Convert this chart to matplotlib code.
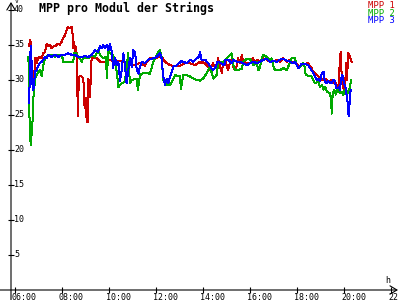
import matplotlib
matplotlib.use("Agg")
import matplotlib.pyplot as plt

title = "MPP pro Modul der Strings"
series_names = ["MPP 1", "MPP 2", "MPP 3"]
colors = ["#cc0000", "#00aa00", "#0000ff"]
x_ticks = [6, 8, 10, 12, 14, 16, 18, 20, 22]
x_tick_labels = ["06:00", "08:00", "10:00", "12:00", "14:00", "16:00", "18:00", "20:00", "22:00"]
y_ticks = [5, 10, 15, 20, 25, 30, 35, 40]
y_unit = "V"
x_unit = "h"

red_t = [6.60, 6.64, 6.68, 6.71, 6.74, 6.81, 6.85, 6.89, 6.92, 6.99, 7.06, 7.14, 7.19, 7.28, 7.35,
         7.42, 7.49, 7.56, 7.63, 7.70, 7.77, 7.84, 7.91, 7.99, 8.06, 8.13, 8.20, 8.24, 8.34, 8.41,
         8.46, 8.48, 8.51, 8.55, 8.58, 8.63, 8.65, 8.67, 8.69, 8.74, 8.84, 8.91, 8.95, 8.98, 9.01,
         9.05, 9.11, 9.12, 9.16, 9.19, 9.22, 9.26, 9.32, 9.40, 9.49, 9.62, 9.83, 10.04, 10.26, 10.47,
         10.68, 10.89, 11.11, 11.32, 11.53, 11.62, 11.74, 11.96, 12.17, 12.30, 12.38, 12.60, 12.81,
         13.02, 13.23, 13.45, 13.66, 13.87, 13.96, 14.00, 14.17, 14.30, 14.43, 14.51, 14.60, 14.64,
         14.72, 14.81, 14.85, 14.94, 15.02, 15.06, 15.15, 15.23, 15.28, 15.36, 15.45, 15.49, 15.57,
         15.66, 15.70, 15.87, 16.00, 16.13, 16.21, 16.34, 16.43, 16.55, 16.72, 16.85, 16.98, 17.15,
         17.28, 17.40, 17.57, 17.70, 17.83, 17.91, 18.04, 18.13, 18.34, 18.46, 18.55, 18.62, 18.69,
         18.77, 18.91, 18.98, 19.06, 19.19, 19.33, 19.48, 19.53, 19.62, 19.70, 19.77, 19.82, 19.86,
         19.89, 19.92, 19.96, 20.01, 20.06, 20.10, 20.13, 20.18, 20.23, 20.28, 20.30, 20.33]
red_v = [34.8, 35.7, 35.3, 30.7, 29.5, 29.7, 33.1, 33.1, 32.4, 33.1, 33.3, 33.1, 33.8, 34.0, 35.2,
         34.8, 35.0, 34.5, 34.8, 34.8, 35.0, 35.2, 35.0, 35.5, 36.0, 36.4, 37.1, 37.6, 37.4, 37.6,
         36.4, 34.5, 35.5, 34.0, 34.8, 33.6, 30.7, 24.8, 27.9, 30.5, 30.5, 30.2, 26.4, 26.0, 27.4,
         24.0, 24.0, 30.2, 29.7, 27.5, 30.0, 33.1, 33.3, 33.1, 33.1, 32.6, 32.5, 32.9, 32.6, 32.7,
         32.6, 32.3, 32.1, 32.5, 32.0, 32.6, 33.1, 33.1, 33.3, 33.1, 32.6, 32.1, 32.0,
         32.0, 32.4, 32.4, 32.1, 32.6, 32.4, 32.6, 32.1, 31.4, 32.4, 31.7, 32.1, 33.1,
         31.9, 31.0, 32.4, 32.9, 31.9, 31.4, 32.4, 33.1, 31.9, 31.4, 32.1, 33.1, 32.4,
         33.6, 32.6, 32.4, 32.4, 33.1, 32.6, 32.9, 32.6, 33.1, 32.9, 32.6, 32.6, 32.9,
         32.6, 33.1, 32.6, 32.9, 32.4, 32.6, 32.1, 32.0, 32.3, 32.4, 32.0, 31.7, 31.2,
         31.0, 30.5, 30.2, 30.0, 30.2, 29.8, 30.0, 29.5, 29.8, 29.3, 29.0, 32.4, 34.0,
         31.5, 30.0, 29.0, 28.6, 30.0, 32.4, 30.0, 33.8, 33.6, 33.1, 32.9, 32.6]

green_t = [6.57, 6.60, 6.62, 6.65, 6.68, 6.71, 6.74, 6.78, 6.82, 6.88, 6.97, 7.06, 7.14, 7.20, 7.28,
           7.35, 7.42, 7.56, 7.70, 7.84, 7.99, 8.06, 8.20, 8.34, 8.48, 8.52, 8.63, 8.69, 8.77, 8.84,
           8.91, 8.98, 9.12, 9.26, 9.40, 9.53, 9.62, 9.74, 9.87, 9.91, 9.97, 10.04, 10.17, 10.26,
           10.33, 10.40, 10.54, 10.68, 10.75, 10.82, 10.89, 10.97, 11.18, 11.23, 11.32, 11.46, 11.60,
           11.74, 11.89, 12.03, 12.17, 12.24, 12.31, 12.46, 12.60, 12.74, 12.81, 13.02, 13.06, 13.16,
           13.31, 13.45, 13.66, 13.87, 14.01, 14.16, 14.30, 14.44, 14.58, 14.65, 14.86, 15.01, 15.15,
           15.22, 15.30, 15.36, 15.57, 15.65, 15.71, 15.86, 16.00, 16.14, 16.28, 16.36, 16.43, 16.50,
           16.57, 16.71, 16.78, 16.85, 16.92, 16.99, 17.06, 17.28, 17.42, 17.56, 17.63, 17.77, 17.91,
           17.99, 18.05, 18.13, 18.27, 18.31, 18.34, 18.38, 18.62, 18.69, 18.77, 18.91, 18.98, 19.06,
           19.13, 19.21, 19.28, 19.40, 19.45, 19.48, 19.52, 19.59, 19.65, 19.73, 19.79, 19.87, 19.93,
           19.97, 20.04, 20.11, 20.18, 20.26, 20.30]
green_v = [33.3, 29.0, 24.0, 21.5, 20.7, 22.5, 23.6, 27.4, 29.0, 30.5, 31.0, 31.4, 30.5, 32.1, 33.1,
           33.3, 33.6, 33.6, 33.3, 33.6, 33.6, 32.6, 32.6, 32.6, 32.6, 33.8, 33.8, 33.3, 33.1, 32.6,
           33.3, 33.1, 33.1, 33.6, 33.3, 34.3, 33.6, 33.1, 33.3, 30.3, 34.3, 33.8, 33.6, 32.6,
           31.2, 29.0, 29.5, 29.8, 31.9, 33.8, 29.5, 30.0, 30.2, 28.6, 30.7, 31.0, 31.0,
           30.9, 32.6, 33.6, 34.3, 33.3, 30.0, 29.3, 29.3, 30.2, 30.7, 30.5, 28.7, 30.7,
           30.7, 30.5, 30.1, 29.9, 30.2, 31.0, 31.9, 30.2, 30.7, 32.4, 32.6, 33.1, 33.6,
           33.8, 32.1, 31.4, 31.5, 31.5, 32.6, 33.0, 33.0, 32.1, 32.6, 31.4, 31.9, 33.1,
           33.6, 33.3, 33.1, 32.6, 33.1, 32.1, 31.4, 31.4, 31.7, 31.4, 31.9, 33.1, 33.1,
           32.1, 31.7, 31.9, 32.4, 32.3, 31.4, 30.7, 30.5, 30.0, 29.5, 29.8, 29.0, 29.3,
           28.6, 29.0, 28.3, 28.1, 27.4, 25.2, 28.1, 28.6, 27.9, 28.8, 28.3, 28.1, 28.3,
           27.9, 28.6, 27.9, 28.3, 29.0, 30.0]

blue_t = [6.60, 6.63, 6.65, 6.68, 6.71, 6.74, 6.78, 6.82, 6.85, 6.92, 6.97, 7.06, 7.14, 7.20, 7.28,
          7.35, 7.42, 7.56, 7.70, 7.84, 7.99, 8.13, 8.27, 8.41, 8.55, 8.69, 8.84, 8.98, 9.12, 9.26,
          9.37, 9.40, 9.53, 9.62, 9.69, 9.76, 9.83, 9.90, 9.97, 10.04, 10.13, 10.17, 10.26, 10.33,
          10.40, 10.47, 10.54, 10.61, 10.68, 10.75, 10.82, 10.89, 10.97, 11.03, 11.11, 11.18, 11.25,
          11.32, 11.39, 11.53, 11.67, 11.89, 12.03, 12.17, 12.24, 12.31, 12.38, 12.46, 12.52, 12.60,
          12.67, 12.74, 12.88, 13.09, 13.31, 13.45, 13.59, 13.73, 13.83, 13.87, 13.94, 14.09, 14.22,
          14.42, 14.55, 14.62, 14.77, 14.91, 14.94, 15.08, 15.22, 15.30, 15.44, 15.57, 15.71, 15.86,
          16.00, 16.14, 16.28, 16.43, 16.57, 16.71, 16.85, 16.99, 17.14, 17.28, 17.42, 17.56, 17.70,
          17.84, 17.91, 18.06, 18.13, 18.20, 18.34, 18.48, 18.62, 18.69, 18.77, 18.84, 18.91, 18.98,
          19.06, 19.13, 19.18, 19.24, 19.33, 19.48, 19.55, 19.62, 19.66, 19.73, 19.79, 19.83, 19.87,
          19.93, 20.01, 20.06, 20.10, 20.16, 20.20, 20.24, 20.26, 20.30]
blue_v = [26.7, 30.5, 33.8, 34.8, 32.1, 29.5, 28.6, 29.8, 31.2, 31.4, 31.9, 32.4, 32.6, 32.9, 33.3,
          33.1, 33.6, 33.3, 33.6, 33.3, 33.6, 33.6, 33.8, 33.6, 33.6, 33.3, 33.3, 33.4, 33.3, 33.6,
          34.0, 34.3, 34.0, 34.8, 34.5, 35.0, 34.5, 35.0, 34.3, 35.2, 33.8, 31.7, 33.1, 32.1,
          32.6, 29.9, 31.4, 33.8, 32.1, 29.5, 31.4, 33.1, 31.9, 34.3, 34.0, 31.4, 30.9,
          31.9, 32.6, 32.4, 32.9, 33.1, 33.3, 33.8, 33.1, 30.5, 29.3, 30.2, 29.5, 30.5,
          31.2, 31.9, 32.1, 32.7, 32.4, 32.9, 32.6, 33.1, 33.3, 34.0, 32.9, 32.9, 32.4,
          31.4, 31.9, 32.6, 32.4, 32.1, 32.9, 32.9, 32.4, 32.9, 32.6, 32.6, 32.4, 32.1,
          32.4, 32.6, 32.4, 32.6, 32.9, 33.0, 32.6, 32.7, 32.6, 32.9, 33.0, 32.8, 32.6,
          32.4, 32.6, 31.7, 32.0, 32.3, 32.3, 32.1, 31.4, 31.0, 30.5, 30.0, 30.2, 29.8,
          31.0, 31.2, 29.8, 29.5, 29.8, 29.5, 30.0, 29.8, 28.8, 28.8, 29.0, 28.6, 30.0,
          30.7, 29.5, 29.0, 28.1, 26.7, 24.8, 26.7, 28.1, 28.6]

W, H = 400, 300
fig = plt.figure(figsize=(4, 3), dpi=100)
fig.patch.set_facecolor("white")
ax = fig.add_axes([11 / W, 10 / H, 387 / W, 288 / H])
ax.set_xlim(5.83, 22.30)
ax.set_ylim(0, 41.14)
ax.patch.set_alpha(0)

for t, v, c in zip([red_t, green_t, blue_t], [red_v, green_v, blue_v], colors):
    ax.plot(t, v, color=c, lw=0.72, antialiased=False)

for s in ax.spines.values():
    s.set_visible(False)

ax.set_xticks(x_ticks)
ax.set_xticklabels([])
ax.set_yticks(y_ticks)
ax.set_yticklabels([])
ax.tick_params(direction="inout", length=4.5, width=0.8, color="black")

mono = "DejaVu Sans Mono"
# axis lines with open arrow heads
ax.annotate("", xy=(1.0, 0), xytext=(-11 / 387, 0), xycoords="axes fraction",
            arrowprops=dict(arrowstyle="->,head_length=0.5,head_width=0.3", lw=0.8, color="black",
                            shrinkA=0, shrinkB=0), annotation_clip=False)
ax.annotate("", xy=(0, 1.0), xytext=(0, -10 / 288), xycoords="axes fraction",
            arrowprops=dict(arrowstyle="->,head_length=0.5,head_width=0.3", lw=0.8, color="black",
                            shrinkA=0, shrinkB=0), annotation_clip=False)

for v in y_ticks:
    ax.annotate(str(v), xy=(0, v), xycoords=("axes fraction", "data"), xytext=(3, 0),
                textcoords="offset pixels", ha="left", va="center", fontsize=6,
                family=mono, annotation_clip=False)
for h, lbl in zip(x_ticks, x_tick_labels):
    ax.annotate(lbl, xy=(h, 0), xycoords=("data", "axes fraction"), xytext=(-3, -3),
                textcoords="offset pixels", ha="left", va="top", fontsize=6,
                family=mono, annotation_clip=False)

fig.text(15 / W, 1 - (-1) / H, y_unit, ha="left", va="top", fontsize=4.5, family=mono)
fig.text(385 / W, 1 - 276 / H, x_unit, ha="left", va="top", fontsize=6, family=mono)

fig.text(39 / W, 1 - 2 / H, title, ha="left", va="top", fontsize=8.4, family=mono,
         fontweight="bold")

for i, (name, c) in enumerate(zip(series_names, colors)):
    fig.text(395 / W, 1 - (1 + 7.5 * i) / H, name, ha="right", va="top", fontsize=6.4,
             family=mono, color=c)

fig.savefig("out.png", dpi=100, facecolor="white")
